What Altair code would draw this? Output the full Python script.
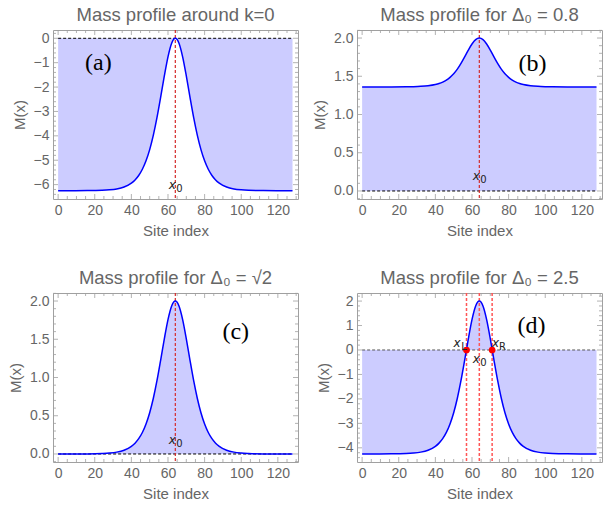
import altair as alt
import pandas as pd

# Site index sampling (denser around the kink centre x0 = 64)
site = [0, 8, 16, 24, 28, 32, 36, 40, 42, 44, 46, 48, 50, 52, 54, 56, 58, 60, 62, 64,
        66, 68, 70, 72, 74, 76, 78, 80, 82, 84, 86, 88, 92, 96, 100, 104, 112, 120, 128]

mass_a = [-6.250, -6.249, -6.246, -6.233, -6.214, -6.176, -6.098, -5.940, -5.808, -5.625,
          -5.371, -5.024, -4.564, -3.972, -3.246, -2.413, -1.544, -0.759, -0.202, 0.000,
          -0.202, -0.759, -1.544, -2.413, -3.246, -3.972, -4.564, -5.024, -5.371, -5.625,
          -5.808, -5.940, -6.098, -6.176, -6.214, -6.233, -6.246, -6.249, -6.250]

mass_b = [1.360, 1.360, 1.360, 1.362, 1.364, 1.368, 1.376, 1.392, 1.405, 1.424,
          1.450, 1.486, 1.533, 1.593, 1.668, 1.753, 1.842, 1.922, 1.979, 2.000,
          1.979, 1.922, 1.842, 1.753, 1.668, 1.593, 1.533, 1.486, 1.450, 1.424,
          1.405, 1.392, 1.376, 1.368, 1.364, 1.362, 1.360, 1.360, 1.360]

mass_c = [0.000, 0.000, 0.001, 0.006, 0.012, 0.024, 0.049, 0.099, 0.141, 0.200,
          0.281, 0.392, 0.540, 0.729, 0.961, 1.228, 1.506, 1.757, 1.935, 2.000,
          1.935, 1.757, 1.506, 1.228, 0.961, 0.729, 0.540, 0.392, 0.281, 0.200,
          0.141, 0.099, 0.049, 0.024, 0.012, 0.006, 0.001, 0.000, 0.000]

mass_d = [-4.250, -4.249, -4.246, -4.233, -4.214, -4.176, -4.098, -3.940, -3.808, -3.625,
          -3.371, -3.024, -2.564, -1.972, -1.246, -0.413, 0.456, 1.241, 1.798, 2.000,
          1.798, 1.241, 0.456, -0.413, -1.246, -1.972, -2.564, -3.024, -3.371, -3.625,
          -3.808, -3.940, -4.098, -4.176, -4.214, -4.233, -4.246, -4.249, -4.250]

x0 = 64
x_left, x_right = 57, 71          # zero crossings of M(x) for Delta0 = 2.5

x_major = [0, 20, 40, 60, 80, 100, 120]
x_minor = [v for v in range(0, 131, 5) if v % 20 != 0]

W, H = 245, 169
FRAME = "#a0a0a0"
GREY = "#666666"
SANS = "Liberation Sans"


def frange(a, b, step):
    out, v = [], a
    while v <= b + 1e-9:
        out.append(round(v, 4))
        v += step
    return out


def panel(mass, title, ydom, ymaj, ymin, yfmt, tag, tag_xy, labels, vlines, vstyle,
          dots=None, zero_color="black"):
    xs = alt.Scale(domain=[-2.8, 131], nice=False, zero=False)
    ys = alt.Scale(domain=ydom, nice=False, zero=False)
    x_axis = alt.Axis(values=x_major, labelPadding=4, titlePadding=6)
    y_axis = alt.Axis(values=ymaj, format=yfmt, labelPadding=4, titlePadding=6)
    df = pd.DataFrame({"x": site, "y": mass, "z": [0.0] * len(site)})

    # every layer carries the same scale and axis so the merged axes stay intact
    X = lambda: alt.X("x:Q", scale=xs, title="Site index", axis=x_axis)
    Y = lambda: alt.Y("y:Q", scale=ys, title="M(x)", axis=y_axis)

    area = alt.Chart(df).mark_area(color="#ccccff", opacity=1, interpolate="monotone").encode(
        x=X(), y=Y(), y2="z:Q")
    line = alt.Chart(df).mark_line(color="#0000ff", strokeWidth=1.5,
                                   interpolate="monotone").encode(x=X(), y=Y())

    zdf = pd.DataFrame({"x": [0], "x2": [128], "y": [0.0]})
    zero = alt.Chart(zdf).mark_rule(color=zero_color, strokeWidth=1,
                                    strokeDash=[3, 2]).encode(x=X(), x2="x2:Q", y=Y())

    vdf = pd.DataFrame({"x": vlines})
    vl = alt.Chart(vdf).mark_rule(**vstyle).encode(x=X())

    layers = [area, zero, vl, line]

    if dots is not None:
        ddf = pd.DataFrame({"x": dots, "y": [0.0] * len(dots)})
        layers.append(alt.Chart(ddf).mark_circle(color="#ff0000", size=45, opacity=1)
                      .encode(x=X(), y=Y()))

    ldf = pd.DataFrame(labels, columns=["x", "y", "m", "s"])
    layers.append(alt.Chart(ldf).mark_text(font="DejaVu Sans", fontStyle="italic", fontSize=12,
                                           color="#222222", dx=-3)
                  .encode(x=X(), y=Y(), text="m:N"))
    layers.append(alt.Chart(ldf).mark_text(font="DejaVu Sans", fontSize=10, color="#222222",
                                           dx=4, dy=4)
                  .encode(x=X(), y=Y(), text="s:N"))

    tdf = pd.DataFrame({"x": [tag_xy[0]], "y": [tag_xy[1]], "t": [tag]})
    layers.append(alt.Chart(tdf).mark_text(font="Liberation Serif", fontSize=24, color="black")
                  .encode(x=X(), y=Y(), text="t:N"))

    # inward frame ticks on all four sides
    for vals, ln in ((x_major, 5), (x_minor, 3)):
        t = alt.Chart(pd.DataFrame({"x": vals})).mark_rule(color=FRAME, strokeWidth=0.8)
        layers.append(t.encode(x=X(), y=alt.value(H), y2=alt.value(H - ln)))
        layers.append(t.encode(x=X(), y=alt.value(0), y2=alt.value(ln)))
    for vals, ln in ((ymaj, 5), (ymin, 3)):
        t = alt.Chart(pd.DataFrame({"y": vals})).mark_rule(color=FRAME, strokeWidth=0.8)
        layers.append(t.encode(y=Y(), x=alt.value(0), x2=alt.value(ln)))
        layers.append(t.encode(y=Y(), x=alt.value(W), x2=alt.value(W - ln)))

    return alt.layer(*layers).properties(
        width=W, height=H,
        title=alt.TitleParams(title, fontSize=18.5, font=SANS, color=GREY,
                              fontWeight="normal", offset=5),
    )


thin_red = dict(color="#d42a2a", strokeWidth=1.2, strokeDash=[3, 2])
thick_red = dict(color="#ff5555", strokeWidth=1.5, strokeDash=[3, 2])

ya_major = [0, -1, -2, -3, -4, -5, -6]
ya_minor = [v for v in frange(-6.4, 0.3, 0.2) if abs(v - round(v)) > 1e-6]
yb_major = [0.0, 0.5, 1.0, 1.5, 2.0]
yb_minor = [v for v in frange(-0.1, 2.1, 0.1) if abs(v * 2 - round(v * 2)) > 1e-6]
yd_major = [-4, -3, -2, -1, 0, 1, 2]
yd_minor = [v for v in frange(-4.4, 2.2, 0.2) if abs(v - round(v)) > 1e-6]

pa = panel(mass_a, "Mass profile around k=0", [-6.59, 0.34], ya_major, ya_minor, "d",
           "(a)", (22, -1.0), [(x0, -6.03, "x", "0")], [x0], thin_red)
pb = panel(mass_b, "Mass profile for \u0394\u2080 = 0.8", [-0.105, 2.105], yb_major, yb_minor,
           ".1f", "(b)", (93, 1.66), [(x0, 0.19, "x", "0")], [x0], thin_red)
pc = panel(mass_c, "Mass profile for \u0394\u2080 = \u221a2", [-0.105, 2.105], yb_major,
           yb_minor, ".1f", "(c)", (97, 1.6), [(x0, 0.18, "x", "0")], [x0], thin_red)
pd_ = panel(mass_d, "Mass profile for \u0394\u2080 = 2.5", [-4.58, 2.33], yd_major, yd_minor, "d",
            "(d)", (92.5, 1.0),
            [(x0, -0.37, "x", "0"), (53.5, 0.3, "x", "L"), (74.5, 0.3, "x", "R")],
            [x_left, x0, x_right], thick_red, dots=[x_left, x_right], zero_color="#555555")

chart = alt.concat(pa, pb, pc, pd_, columns=2, spacing={"row": 94, "column": 59},
                   bounds="flush").properties(
    padding={"left": 8, "top": 5, "right": 5, "bottom": 5}, background="white"
).configure_view(stroke=FRAME, strokeWidth=1).configure_axis(
    labelFont=SANS, labelFontSize=14, labelColor=GREY,
    titleFont=SANS, titleFontSize=15, titleColor=GREY, titleFontWeight="normal",
    ticks=False, domain=False, grid=False,
)

chart.save("out.html", embed_options={"renderer": "svg", "actions": False})
